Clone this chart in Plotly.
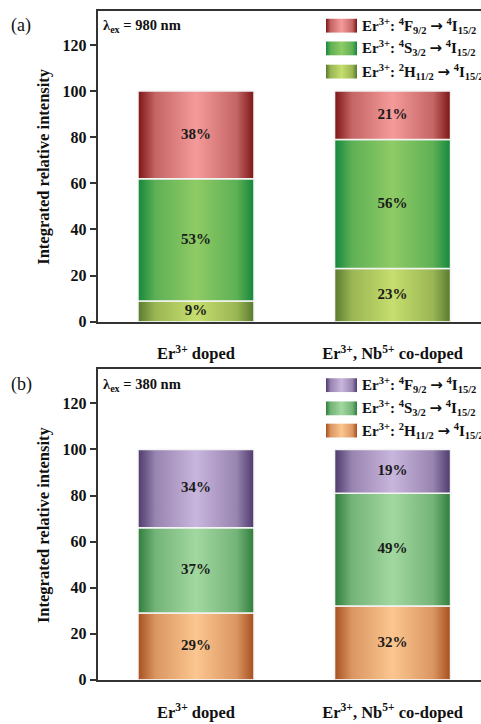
import plotly.graph_objects as go

# ---------------- data ----------------
categories = ["Er<sup>3+</sup> doped", "Er<sup>3+</sup>, Nb<sup>5+</sup> co-doped"]
ARROW = '<span style="font-family:DejaVu Sans">→</span>'
series_names = [
    "Er<sup>3+</sup>: <sup>2</sup>H<sub>11/2</sub> " + ARROW + " <sup>4</sup>I<sub>15/2</sub>",
    "Er<sup>3+</sup>: <sup>4</sup>S<sub>3/2</sub> " + ARROW + " <sup>4</sup>I<sub>15/2</sub>",
    "Er<sup>3+</sup>: <sup>4</sup>F<sub>9/2</sub> " + ARROW + " <sup>4</sup>I<sub>15/2</sub>",
]
# panel (a) lambda_ex = 980 nm  (bottom -> top: H11/2, S3/2, F9/2)
a_H = [9, 23]
a_S = [53, 56]
a_F = [38, 21]
# panel (b) lambda_ex = 380 nm
b_H = [29, 32]
b_S = [37, 49]
b_F = [34, 19]
y_ticks = [0, 20, 40, 60, 80, 100, 120]

# ---------------- styling ----------------
W, H = 481, 724
FONT = "Liberation Serif"
AX = "#333333"
colors_a = [("#587a2e", "#c6de6e"), ("#14873c", "#8fcb65"), ("#7d1515", "#f59a9a")]
colors_b = [("#a64f1e", "#fcc690"), ("#2f7d3c", "#a2d8a0"), ("#4e3a6c", "#c9b6dd")]

def mix(c1, c2, t):
    a = [int(c1[i:i + 2], 16) for i in (1, 3, 5)]
    b = [int(c2[i:i + 2], 16) for i in (1, 3, 5)]
    return "#%02x%02x%02x" % tuple(round(a[k] + (b[k] - a[k]) * t) for k in range(3))

def cscale(dark, light):
    m = mix(dark, light, 0.6)
    return [[0, dark], [0.15, m], [0.5, light], [0.85, m], [1, dark]]

BAR_W = 0.59
XRANGE = [-0.5, 1.45]
YRANGE = [0, 134.8]
dom_a = [1 - 325.7 / H, 1 - 11 / H]
dom_b = [1 - 688.3 / H, 1 - 374 / H]
X0 = 97.7 / W

fig = go.Figure()

def add_panel(xa, ya, vals, cols):
    base = [0, 0]
    for s, v in enumerate(vals):
        dark, light = cols[s]
        for i in range(2):
            l, r = i - BAR_W / 2, i + BAR_W / 2
            b0, b1 = base[i], base[i] + v[i]
            fig.add_trace(go.Scatter(
                x=[l, r, r, l, l], y=[b0, b0, b1, b1, b0], mode="lines",
                fill="toself", fillgradient=dict(type="horizontal", colorscale=cscale(dark, light)),
                line=dict(color="#f4f4f4", width=1.5), xaxis=xa, yaxis=ya,
                showlegend=False, hoverinfo="skip"))
        fig.add_trace(go.Scatter(
            x=[0, 1], y=[base[k] + v[k] / 2 for k in range(2)], mode="text",
            text=[f"{v[k]}%" for k in range(2)],
            textfont=dict(family=FONT, size=15, color="#1a1a1a", weight="bold"),
            xaxis=xa, yaxis=ya, showlegend=False, hoverinfo="skip"))
        base = [base[k] + v[k] for k in range(2)]

add_panel("x", "y", [a_H, a_S, a_F], colors_a)
add_panel("x2", "y2", [b_H, b_S, b_F], colors_b)

# legend patches on a pixel overlay axis
LEG_X0, LEG_X1, LEG_H = 326, 357, 14
leg_rows_a = [26, 49, 72.5]
leg_rows_b = [390, 413.5, 436]
def add_legend(rows, cols):
    # rows top->bottom: F, S, H
    order = [2, 1, 0]
    for r, s in zip(rows, order):
        dark, light = cols[s]
        y0, y1 = r - LEG_H / 2, r + LEG_H / 2
        fig.add_trace(go.Scatter(
            x=[LEG_X0, LEG_X1, LEG_X1, LEG_X0, LEG_X0], y=[y0, y0, y1, y1, y0], mode="lines",
            fill="toself", fillgradient=dict(type="horizontal", colorscale=cscale(dark, light)),
            line=dict(width=0), xaxis="x3", yaxis="y3", showlegend=False, hoverinfo="skip"))
        fig.add_annotation(x=361 / W, y=1 - r / H, xref="paper", yref="paper",
                           text="<b>" + series_names[s] + "</b>", showarrow=False,
                           xanchor="left", yanchor="middle", borderpad=0,
                           font=dict(family=FONT, size=15, color="#111111"))

add_legend(leg_rows_a, colors_a)
add_legend(leg_rows_b, colors_b)

axis_common = dict(showgrid=False, zeroline=False, linecolor=AX, linewidth=2)
xfont = dict(family=FONT, size=16.5, color="#111111", weight="bold")
yfont = dict(family=FONT, size=16, color="#111111", weight="bold")
fig.update_layout(
    width=W, height=H, margin=dict(l=0, r=0, t=0, b=0),
    paper_bgcolor="white", plot_bgcolor="rgba(0,0,0,0)", hovermode=False,
    xaxis=dict(domain=[X0, 1], range=XRANGE, anchor="y", tickvals=[0, 1], ticktext=categories,
               showline=True, mirror=True, ticks="", ticklabelstandoff=16,
               tickfont=xfont, **axis_common),
    yaxis=dict(domain=dom_a, range=YRANGE, anchor="x", tickvals=y_ticks, showline=True,
               ticks="outside", ticklen=6, tickwidth=2, tickcolor=AX,
               tickfont=yfont, **axis_common),
    xaxis2=dict(domain=[X0, 1], range=XRANGE, anchor="y2", tickvals=[0, 1], ticktext=categories,
                showline=True, mirror=True, ticks="", ticklabelstandoff=16,
                tickfont=xfont, **axis_common),
    yaxis2=dict(domain=dom_b, range=YRANGE, anchor="x2", tickvals=y_ticks, showline=True,
                ticks="outside", ticklen=6, tickwidth=2, tickcolor=AX,
                tickfont=yfont, **axis_common),
    xaxis3=dict(domain=[0, 1], range=[0, W], visible=False, fixedrange=True, anchor="y3"),
    yaxis3=dict(domain=[0, 1], range=[H, 0], visible=False, fixedrange=True, anchor="x3"),
)

# panel labels, excitation wavelengths, y titles
for lab, y in [("(a)", 26), ("(b)", 389)]:
    fig.add_annotation(x=9 / W, y=1 - y / H, xref="paper", yref="paper", text=lab,
                       showarrow=False, xanchor="left", yanchor="middle",
                       font=dict(family=FONT, size=18, color="#111111"))
for lab, y in [("λ<sub>ex</sub> = 980 nm", 26), ("λ<sub>ex</sub> = 380 nm", 390)]:
    fig.add_annotation(x=101 / W, y=1 - y / H, xref="paper", yref="paper", text="<b>" + lab + "</b>",
                       showarrow=False, xanchor="left", yanchor="middle",
                       font=dict(family=FONT, size=14.5, color="#111111"))
for dom in (dom_a, dom_b):
    fig.add_annotation(x=43.5 / W, y=(dom[0] + dom[1]) / 2, xref="paper", yref="paper",
                       text="<b>Integrated relative intensity</b>", textangle=-90, showarrow=False,
                       xanchor="center", yanchor="middle",
                       font=dict(family=FONT, size=16.5, color="#111111"))

fig.write_html("out.html", config={"displayModeBar": False},
               post_script="document.body.style.margin='0';document.body.style.overflow='hidden';")
